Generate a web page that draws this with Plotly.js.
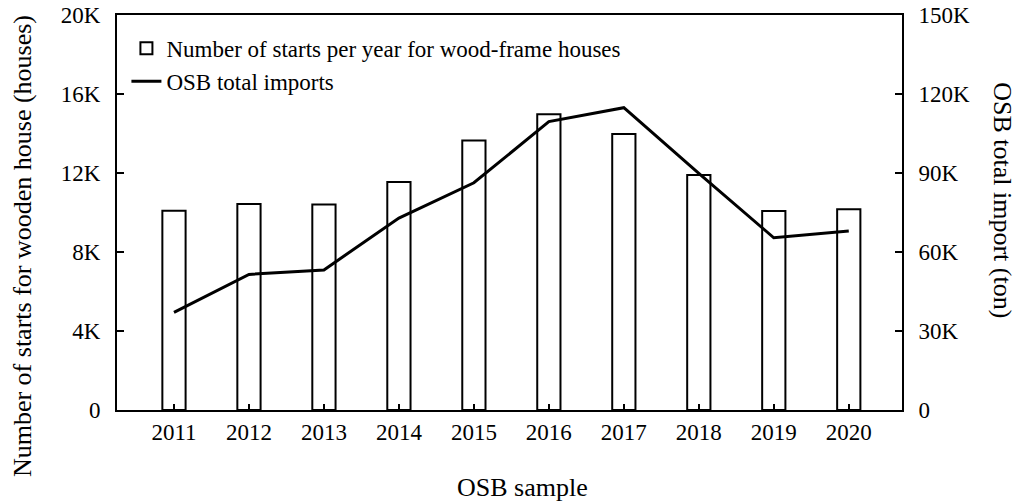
<!DOCTYPE html>
<html>
<head>
<meta charset="utf-8">
<script src="https://cdn.plot.ly/plotly-3.0.1.min.js"></script>
<style>html,body{margin:0;padding:0;background:#fff;}#chart{width:1018px;height:503px;}</style>
</head>
<body>
<div id="chart"></div>
<script>
const years = ['2011','2012','2013','2014','2015','2016','2017','2018','2019','2020'];
const houseStarts = [10090, 10430, 10400, 11540, 13640, 14970, 13970, 11900, 10080, 10160];
const osbImports = [37100, 51500, 53200, 72900, 86300, 109500, 114800, 89900, 65400, 68000];
const leftTickVals = [0, 4000, 8000, 12000, 16000, 20000];
const leftTickText = ['0', '4K', '8K', '12K', '16K', '20K'];
const rightTickVals = [0, 30000, 60000, 90000, 120000, 150000];
const rightTickText = ['0', '30K', '60K', '90K', '120K', '150K'];

const FONT = '"Liberation Serif", "Times New Roman", serif';
const TICK = 23;
const TITLE = 26;

const traces = [
  {
    type: 'bar', x: years, y: houseStarts, name: 'Number of starts per year for wood-frame houses',
    width: 0.31,
    marker: {color: 'rgba(255,255,255,1)', line: {color: '#000', width: 2}},
    yaxis: 'y'
  },
  {
    type: 'scatter', mode: 'lines', x: years, y: osbImports, name: 'OSB total imports',
    line: {color: '#000', width: 3},
    yaxis: 'y2'
  }
];

const layout = {
  width: 1018, height: 503,
  margin: {l: 117, r: 116, t: 15, b: 93},
  paper_bgcolor: '#fff', plot_bgcolor: '#fff',
  font: {family: FONT, size: TICK, color: '#000'},
  showlegend: true,
  legend: {x: 0.012, y: 0.97, xanchor: 'left', yanchor: 'top', bgcolor: 'rgba(0,0,0,0)',
           font: {family: FONT, size: 23, color: '#000'}, tracegroupgap: 0, itemwidth: 30},
  xaxis: {
    type: 'category', range: [-0.76, 9.71],
    showline: true, linecolor: '#000', linewidth: 2, mirror: true,
    ticks: 'inside', ticklen: 6, tickwidth: 1.5, tickcolor: '#000',
    showgrid: false, zeroline: false,
    tickfont: {family: FONT, size: TICK, color: '#000'}
  },
  yaxis: {
    range: [0, 20000],
    tickvals: leftTickVals, ticktext: leftTickText,
    showline: true, linecolor: '#000', linewidth: 2,
    ticks: 'inside', ticklen: 7, tickwidth: 1.5, tickcolor: '#000',
    showgrid: false, zeroline: false, ticklabelstandoff: 10,
    tickfont: {family: FONT, size: TICK, color: '#000'}
  },
  yaxis2: {
    range: [0, 150000], overlaying: 'y', side: 'right',
    tickvals: rightTickVals, ticktext: rightTickText,
    showline: true, linecolor: '#000', linewidth: 2,
    ticks: 'inside', ticklen: 7, tickwidth: 1.5, tickcolor: '#000',
    showgrid: false, zeroline: false, ticklabelstandoff: 10,
    tickfont: {family: FONT, size: TICK, color: '#000'}
  },
  annotations: [
    {text: 'Number of starts for wooden house (houses)', xref: 'paper', yref: 'paper', x: -0.121, y: 0.415,
     xanchor: 'center', yanchor: 'middle', textangle: -90, showarrow: false,
     font: {family: FONT, size: TITLE, color: '#000'}},
    {text: 'OSB total import (ton)', xref: 'paper', yref: 'paper', x: 1.128, y: 0.53,
     xanchor: 'center', yanchor: 'middle', textangle: 90, showarrow: false,
     font: {family: FONT, size: TITLE, color: '#000'}},
    {text: 'OSB sample', xref: 'paper', yref: 'paper', x: 0.517, y: -0.195,
     xanchor: 'center', yanchor: 'middle', showarrow: false,
     font: {family: FONT, size: TITLE, color: '#000'}}
  ]
};

Plotly.newPlot('chart', traces, layout, {displayModeBar: false, staticPlot: true});
</script>
</body>
</html>
